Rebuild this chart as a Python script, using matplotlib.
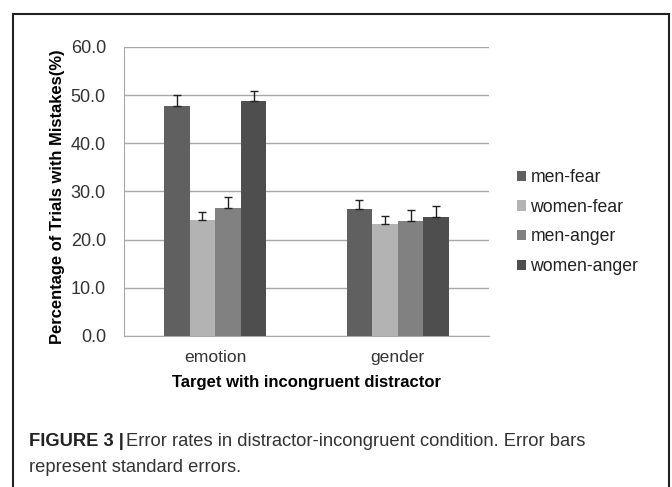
import numpy as np
import matplotlib
matplotlib.use("Agg")
from matplotlib import pyplot as plt
from matplotlib.patches import Rectangle

categories = ["emotion", "gender"]
series = ["men-fear", "women-fear", "men-anger", "women-anger"]
values = {
    "men-fear": [47.7, 26.3],
    "women-fear": [24.1, 23.2],
    "men-anger": [26.6, 23.8],
    "women-anger": [48.7, 24.8],
}
errors = {
    "men-fear": [2.4, 2.0],
    "women-fear": [1.7, 1.8],
    "men-anger": [2.3, 2.4],
    "women-anger": [2.2, 2.2],
}
colors = ["#606060", "#b3b3b3", "#818181", "#4e4e4e"]
yticks = [0, 10, 20, 30, 40, 50, 60]

plt.rcParams["font.family"] = ["Liberation Sans", "DejaVu Sans"]

fig = plt.figure(figsize=(6.72, 4.87), dpi=100)
ax = fig.add_axes([0.1845, 0.3101, 0.5432, 0.5934])

x = np.arange(len(categories))
width = 0.14
for i, name in enumerate(series):
    pos = x + (i - 1.5) * width
    ax.bar(pos, values[name], width, color=colors[i], label=name, zorder=3)
    ax.errorbar(pos, values[name], yerr=[np.zeros(2), errors[name]],
                fmt="none", ecolor="#222222", elinewidth=1.0, capsize=3,
                capthick=1.0, zorder=4)

ax.set_xlim(-0.5, 1.5)
ax.set_ylim(0, 60)
ax.set_yticks(yticks)
ax.set_yticklabels([f"{t:.1f}" for t in yticks], fontsize=13)
ax.set_xticks(x)
ax.set_xticklabels(categories, fontsize=12.6)
ax.tick_params(axis="y", length=0, pad=13, colors="#333333")
ax.tick_params(axis="x", length=0, pad=10, colors="#333333")
ax.grid(axis="y", color="#a8a8a8", linewidth=1.0, zorder=0)
for s in ["top", "right"]:
    ax.spines[s].set_visible(False)
ax.spines["left"].set_color("#a8a8a8")
ax.spines["bottom"].set_color("#a8a8a8")

ax.set_ylabel("Percentage of Trials with Mistakes(%)", fontsize=11.9,
              fontweight="bold")
ax.yaxis.set_label_coords(-0.162, 0.483)
ax.set_xlabel("Target with incongruent distractor", fontsize=12,
              fontweight="bold", labelpad=7)

leg = ax.legend(loc="center left", bbox_to_anchor=(1.077, 0.394),
                frameon=False, fontsize=12.7, handlelength=0.5,
                handleheight=0.5, handletextpad=0.25, labelspacing=0.72,
                borderpad=0, borderaxespad=0)
for t in leg.get_texts():
    t.set_color("#222222")

# outer frame
fig.patches.append(Rectangle((13 / 672, -0.05), (669 - 13) / 672,
                             1.05 - 14 / 487, transform=fig.transFigure,
                             fill=False, edgecolor="#222222", linewidth=1.5))

fig.text(29 / 672, 1 - 442 / 487, "FIGURE 3 |", fontsize=13.2,
         fontweight="bold", va="center", color="#222222")
fig.text(126 / 672, 1 - 442 / 487,
         "Error rates in distractor-incongruent condition. Error bars",
         fontsize=13.2, va="center", color="#333333")
fig.text(29 / 672, 1 - 467 / 487, "represent standard errors.",
         fontsize=13.2, va="center", color="#333333")

fig.savefig("out.png", dpi=100)
